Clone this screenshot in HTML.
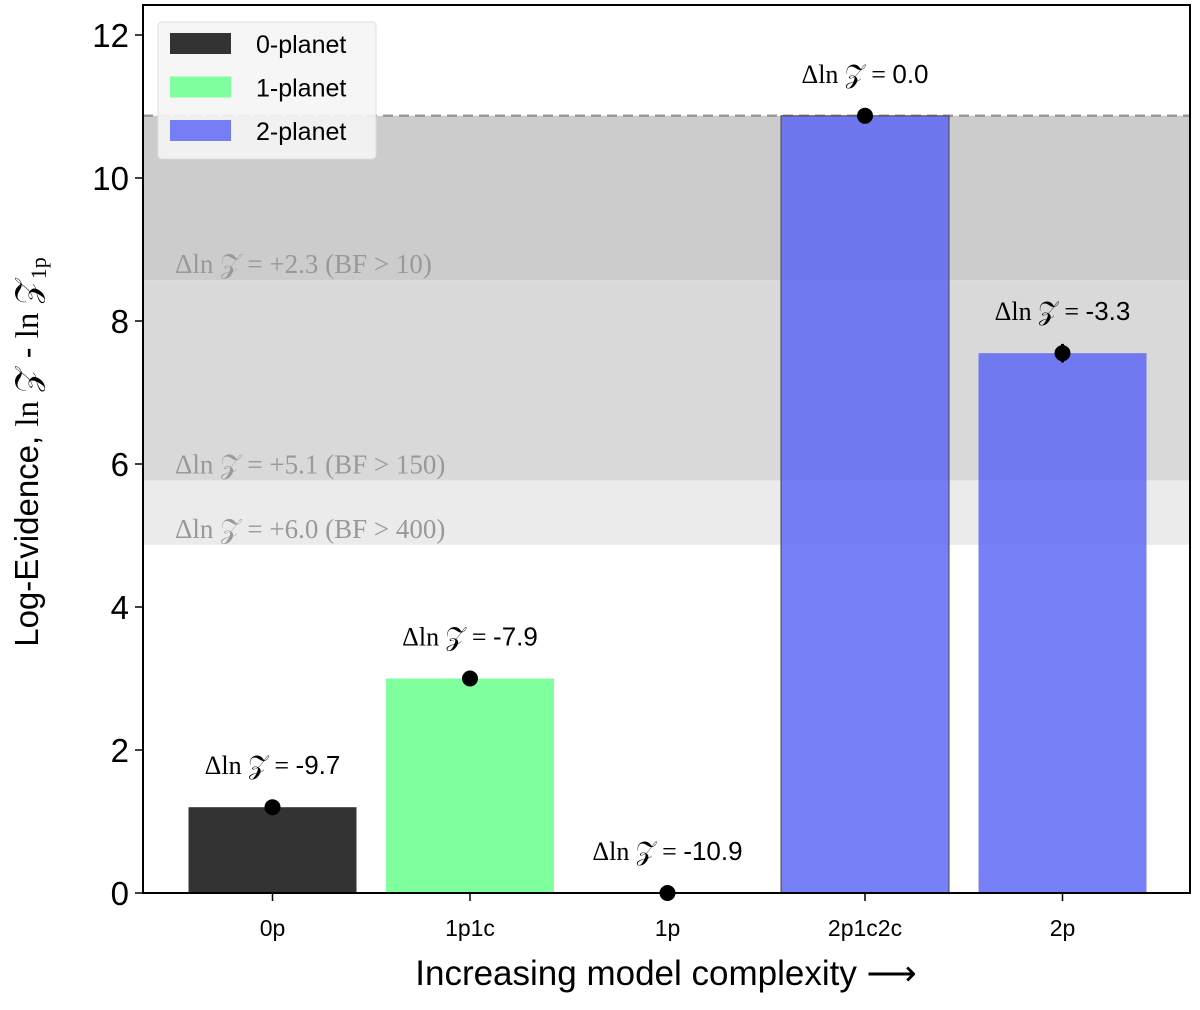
<!DOCTYPE html>
<html><head><meta charset="utf-8"><style>
body{margin:0;background:#fff}
svg text{font-family:"Liberation Sans",sans-serif}
.serif{font-family:"Liberation Serif",serif}
</style></head><body>
<svg width="1200" height="1005" viewBox="0 0 1200 1005" xmlns="http://www.w3.org/2000/svg">
<g id="plot"></g>
</svg>
<script>
const categories = ["0p","1p1c","1p","2p1c2c","2p"];
const values = [1.2, 3.0, 0.0, 10.87, 7.55];
const errors = [0.05, 0.05, 0.08, 0.05, 0.13];
const deltaLabels = ["-9.7","-7.9","-10.9","0.0","-3.3"];
const groups = [0,1,1,2,2];
const yTicks = [0,2,4,6,8,10,12];
const bandEdges = [10.87, 8.57, 5.77, 4.87];
const bandLabels = ["+2.3 (BF > 10)","+5.1 (BF > 150)","+6.0 (BF > 400)"];
const legendLabels = ["0-planet","1-planet","2-planet"];

const NS="http://www.w3.org/2000/svg";
const g=document.getElementById('plot');
const L=143,R=1190,T=5,B=893;
const yv=v=>B-v*71.5;
const xc=i=>272.5+i*197.5;
const bw=168;
const fills=["#333333","#80ff9f","rgba(90,100,246,0.82)"];
function el(t,a,p){const e=document.createElementNS(NS,t);for(const k in a)e.setAttribute(k,a[k]);(p||g).appendChild(e);return e;}

const bandCols=["#cccccc","#d9d9d9","#ebebeb"];
for(let i=0;i<3;i++){
  const r=el('rect',{x:L,y:yv(bandEdges[i]),width:R-L,height:yv(bandEdges[i+1])-yv(bandEdges[i]),fill:bandCols[i]});
  
  
  const t=el('text',{x:175,y:yv(bandEdges[i+1])-7,'font-size':27,fill:'#999'});
  t.setAttribute('class','serif');
  t.textContent='Δln 𝒵 = '+bandLabels[i];
  
  
}
const dl=el('line',{x1:L,x2:R,y1:yv(bandEdges[0]),y2:yv(bandEdges[0]),stroke:'#999',"stroke-width":2.5,"stroke-dasharray":"10,6"});



categories.forEach((c,i)=>{
  const x=xc(i),y=yv(values[i]);
  const b=el('rect',{x:x-bw/2,y:y,width:bw,height:B-y,fill:fills[groups[i]]});
  if(i===3){b.setAttribute('stroke','#444');b.setAttribute('stroke-width','1');}
  
  
  const e=el('line',{x1:x,x2:x,y1:yv(values[i]+errors[i]),y2:yv(values[i]-errors[i]),stroke:'#000','stroke-width':3});
  
  
  const d=el('circle',{cx:x,cy:y,r:8,fill:'#000'});
  
  
  const t=el('text',{x:x,y:y-33,'font-size':26,'text-anchor':'middle',fill:'#000'});
  t.innerHTML='<tspan font-family="Liberation Serif, serif">Δln 𝒵 = </tspan> '+deltaLabels[i];
  
  
  const xt=el('line',{x1:x,x2:x,y1:B,y2:B+8,stroke:'#000','stroke-width':1.5});
  
  
  const xl=el('text',{x:x,y:B+43,'font-size':23,'text-anchor':'middle'});
  xl.textContent=c;
  
  
});

yTicks.forEach(v=>{
  const tk=el('line',{x1:L-8,x2:L,y1:yv(v),y2:yv(v),stroke:'#000','stroke-width':1.5});
  
  
  const t=el('text',{x:L-14,y:yv(v)+12,'font-size':33,'text-anchor':'end'});
  t.textContent=v;
  
  
});

const fr=el('rect',{x:L,y:T,width:R-L,height:B-T,fill:'none',stroke:'#000','stroke-width':2});



const lg=el('g',{});


el('rect',{x:158,y:22,width:218,height:137,rx:4,fill:'rgba(245,245,245,0.9)',stroke:'#ddd'},lg);
legendLabels.forEach((n,i)=>{
  const y=44+i*43.5;
  const p=el('rect',{x:170,y:y-11,width:61,height:21,fill:fills[i]},lg);
  
  
  const t=el('text',{x:256,y:y+9,'font-size':25},lg);
  t.textContent=n;
  
  
});

const xt=el('text',{x:666,y:985,'font-size':35,'text-anchor':'middle'});
xt.textContent='Increasing model complexity ⟶';


const yt=el('text',{x:0,y:0,'font-size':33,'text-anchor':'middle',transform:'translate(38,452) rotate(-90)'});
yt.innerHTML='Log-Evidence, <tspan font-family="Liberation Serif, serif">ln 𝒵</tspan> - <tspan font-family="Liberation Serif, serif">ln 𝒵</tspan><tspan font-size="22" dy="8" font-family="Liberation Serif, serif">1p</tspan>';


</script>
</body></html>
